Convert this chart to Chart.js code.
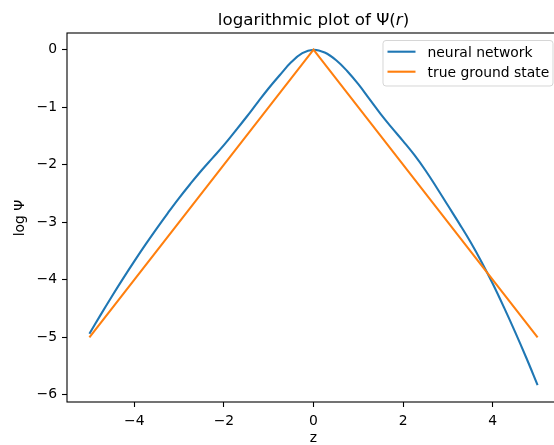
<!DOCTYPE html>
<html>
<head>
<meta charset="utf-8">
<script src="https://cdn.jsdelivr.net/npm/chart.js@4/dist/chart.umd.min.js"></script>
<style>
  html, body { margin: 0; padding: 0; background: #fff; overflow: hidden; }
  canvas { display: block; }
</style>
</head>
<body>
<canvas id="psiChart" width="562" height="445"></canvas>
<script>
// sample points along z
var zValues = [
    -5, -4.75, -4.5, -4.25, -4, -3.75, -3.5, -3.25, -3, -2.75,
    -2.5, -2.25, -2, -1.75, -1.5, -1.25, -1, -0.75, -0.5, -0.25,
    0, 0.25, 0.5, 0.75, 1, 1.25, 1.5, 1.75, 2, 2.25,
    2.5, 2.75, 3, 3.25, 3.5, 3.75, 4, 4.25, 4.5, 4.75, 5
];
// log of the network wavefunction
var neuralValues = [
    -4.94, -4.61, -4.29, -3.98, -3.68, -3.39, -3.11, -2.84, -2.58, -2.335,
    -2.10, -1.88, -1.66, -1.42, -1.175, -0.92, -0.67, -0.44, -0.22, -0.06,
    0, -0.05, -0.18, -0.37, -0.60, -0.86, -1.12, -1.36, -1.59, -1.83,
    -2.10, -2.40, -2.71, -3.02, -3.34, -3.69, -4.07, -4.48, -4.91, -5.36, -5.83
];
// exact ground state, log psi = -|z|
var groundZ = [-5, 0, 5];
var groundValues = [-5, 0, -5];

var xTicks = [-4, -2, 0, 2, 4];
var yTicks = [-6, -5, -4, -3, -2, -1, 0];

var FONT = '"DejaVu Sans", "Liberation Sans", sans-serif';

function minus(v) {
    return String(v).replace('-', '\u2212');
}

var decorPlugin = {
    id: 'decor',
    afterDraw: function (chart) {
        var ctx = chart.ctx;
        var a = chart.chartArea;
        ctx.save();

        // frame
        ctx.strokeStyle = '#000';
        ctx.lineWidth = 1.1;
        ctx.strokeRect(a.left, a.top, a.right - a.left, a.bottom - a.top);

        // title with italic r
        ctx.fillStyle = '#000';
        ctx.textBaseline = 'alphabetic';
        var up = '16.7px ' + FONT;
        var it = 'oblique 16.7px ' + FONT;
        var parts = [['logarithmic plot of \u03A8(', up], ['r', it], [')', up]];
        var total = 0;
        parts.forEach(function (p) { ctx.font = p[1]; total += ctx.measureText(p[0]).width; });
        var tx = 313.5 - total / 2;
        ctx.textAlign = 'left';
        parts.forEach(function (p) {
            ctx.font = p[1];
            ctx.fillText(p[0], tx, 25);
            tx += ctx.measureText(p[0]).width;
        });

        // axis labels
        ctx.font = '13.9px ' + FONT;
        ctx.textAlign = 'center';
        ctx.fillText('z', 313.5, 441.5);
        ctx.save();
        ctx.translate(24, 218);
        ctx.rotate(-Math.PI / 2);
        ctx.fillText('log \u03A8', 0, 0);
        ctx.restore();

        // legend
        var lx = 383, ly = 40.5, lw = 170, lh = 45.5, r = 3;
        ctx.beginPath();
        ctx.moveTo(lx + r, ly);
        ctx.arcTo(lx + lw, ly, lx + lw, ly + lh, r);
        ctx.arcTo(lx + lw, ly + lh, lx, ly + lh, r);
        ctx.arcTo(lx, ly + lh, lx, ly, r);
        ctx.arcTo(lx, ly, lx + lw, ly, r);
        ctx.closePath();
        ctx.fillStyle = 'rgba(255,255,255,0.8)';
        ctx.fill();
        ctx.strokeStyle = 'rgba(204,204,204,0.8)';
        ctx.lineWidth = 1;
        ctx.stroke();

        var entries = [chart.data.datasets[0], chart.data.datasets[1]];
        entries.forEach(function (ds, i) {
            var y = 51.7 + i * 20;
            ctx.strokeStyle = ds.borderColor;
            ctx.lineWidth = 2.1;
            ctx.beginPath();
            ctx.moveTo(387.5, y);
            ctx.lineTo(415.5, y);
            ctx.stroke();
            ctx.fillStyle = '#000';
            ctx.textAlign = 'left';
            ctx.font = '13.9px ' + FONT;
            ctx.fillText(ds.label, 427.5, y + 5);
        });

        ctx.restore();
    }
};

new Chart(document.getElementById('psiChart').getContext('2d'), {
    type: 'line',
    data: {
        datasets: [{
            label: 'neural network',
            data: zValues.map(function (z, i) { return { x: z, y: neuralValues[i] }; }),
            borderColor: '#1f77b4',
            borderWidth: 2.1,
            pointRadius: 0,
            tension: 0.4,
            order: 1
        }, {
            label: 'true ground state',
            data: groundZ.map(function (z, i) { return { x: z, y: groundValues[i] }; }),
            borderColor: '#ff7f0e',
            borderWidth: 2.1,
            pointRadius: 0,
            tension: 0,
            order: 0
        }]
    },
    options: {
        responsive: false,
        animation: false,
        layout: { padding: { left: 0, top: 33, right: 2, bottom: 0 } },
        plugins: {
            legend: { display: false },
            title: { display: false },
            tooltip: { enabled: false }
        },
        scales: {
            x: {
                type: 'linear',
                min: -5.5,
                max: 5.5,
                afterBuildTicks: function (axis) {
                    axis.ticks = xTicks.map(function (v) { return { value: v }; });
                },
                afterFit: function (scale) { scale.height = 43; },
                grid: {
                    drawOnChartArea: false,
                    drawTicks: true,
                    tickLength: 5,
                    tickColor: '#000',
                    tickWidth: 1.1
                },
                border: { display: false },
                ticks: {
                    color: '#000',
                    padding: 6,
                    maxRotation: 0,
                    font: { size: 13.9, family: FONT },
                    callback: function (v) { return minus(v); }
                }
            },
            y: {
                min: -6.125,
                max: 0.29,
                afterBuildTicks: function (axis) {
                    axis.ticks = yTicks.map(function (v) { return { value: v }; });
                },
                afterFit: function (scale) { scale.width = 67; },
                grid: {
                    drawOnChartArea: false,
                    drawTicks: true,
                    tickLength: 5,
                    tickColor: '#000',
                    tickWidth: 1.1
                },
                border: { display: false },
                ticks: {
                    color: '#000',
                    padding: 5,
                    font: { size: 13.9, family: FONT },
                    callback: function (v) { return minus(v); }
                }
            }
        }
    },
    plugins: [decorPlugin]
});
</script>
</body>
</html>
